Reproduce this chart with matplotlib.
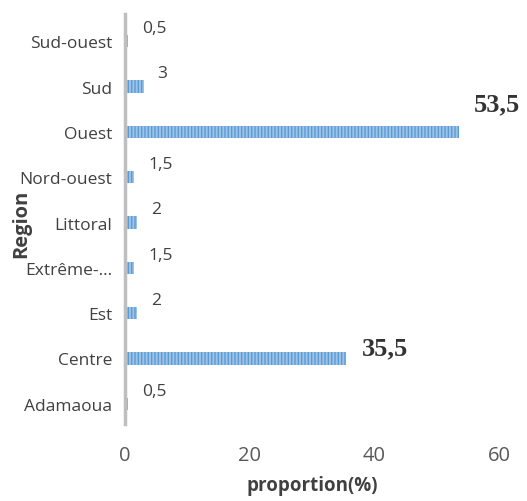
import matplotlib
matplotlib.use("Agg")
import matplotlib.pyplot as plt

# regions, bottom to top
regions = ["Adamaoua", "Centre", "Est", "Extrême-...", "Littoral",
           "Nord-ouest", "Ouest", "Sud", "Sud-ouest"]
proportion = [0.5, 35.5, 2, 1.5, 2, 1.5, 53.5, 3, 0.5]
labels = ["0,5", "35,5", "2", "1,5", "2", "1,5", "53,5", "3", "0,5"]

plt.rcParams['font.family'] = ['Open Sans', 'DejaVu Sans']
plt.rcParams['hatch.linewidth'] = 1.0

fig = plt.figure(figsize=(5.27, 5.02), dpi=100)
ax = fig.add_axes([0.237, 0.153, 0.71, 0.817])

ypos = list(range(len(regions)))
ax.barh(ypos, proportion, height=0.27, color='#9dc3e6',
        edgecolor='#5b9bd5', hatch='|||||', linewidth=0)

for y, v, lab in zip(ypos, proportion, labels):
    if v > 30:
        # the top big label sits higher, like in the original
        dy = 20 if v > 50 else 8
        ax.annotate(lab, (v, y), xytext=(11, dy), textcoords='offset points',
                    ha='left', va='center', fontsize=19, fontweight='bold',
                    family='Liberation Serif', color='#333333')
    else:
        ax.annotate(lab, (v, y), xytext=(10, 9.5), textcoords='offset points',
                    ha='left', va='center', fontsize=12.5, color='#404040')

ax.set_xlim(0, 60)
ax.set_ylim(-0.45, 8.6)
ax.set_xticks([0, 20, 40, 60])
ax.set_yticks(ypos)
ax.set_yticklabels(regions)
ax.tick_params(axis='y', length=0, labelsize=12.5, labelcolor='#404040', pad=9)
ax.tick_params(axis='x', length=0, labelsize=14.5, labelcolor='#595959', pad=15)

for s in ['top', 'right', 'bottom']:
    ax.spines[s].set_visible(False)
ax.spines['left'].set_color('#bfbfbf')
ax.spines['left'].set_linewidth(2.5)

ax.set_xlabel('proportion(%)', fontsize=13.5, fontweight='bold', color='#404040',
              labelpad=7)
ax.set_ylabel('Region', fontsize=14.5, fontweight='bold', color='#404040')
ax.yaxis.set_label_coords(-0.25, 0.49)

fig.savefig('out.png', dpi=100)
